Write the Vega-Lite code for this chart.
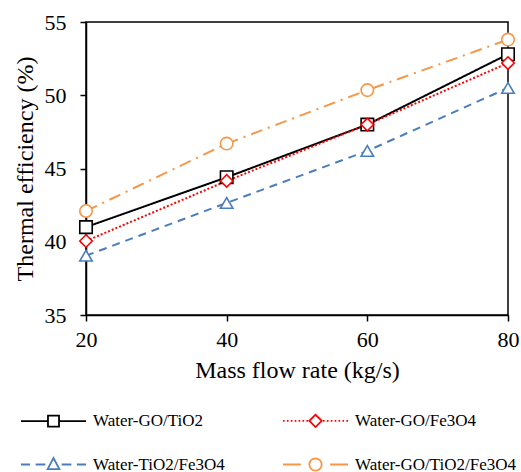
{
  "$schema": "https://vega.github.io/schema/vega-lite/v6.json",
  "width": 422,
  "height": 293,
  "autosize": {"type": "none"},
  "padding": {"left": 86, "top": 22, "right": 13, "bottom": 157},
  "background": "white",
  "config": {
    "font": "Liberation Serif",
    "view": {"stroke": "black", "strokeWidth": 1.5},
    "axis": {"grid": false, "labelFlush": false, "domainColor": "black", "domainWidth": 1.5, "tickColor": "black", "tickWidth": 1.5, "tickSize": 6, "labelFont": "Liberation Serif", "labelFontSize": 22, "labelColor": "black", "titleFont": "Liberation Serif", "titleFontSize": 24, "titleFontWeight": "normal", "titleColor": "black"},
    "legend": {"labelFont": "Liberation Serif"}
  },
  "data": {"values": [
    {"series": "Water-GO/TiO2", "x": 20, "y": 41.0},
    {"series": "Water-GO/TiO2", "x": 40, "y": 44.4},
    {"series": "Water-GO/TiO2", "x": 60, "y": 48.0},
    {"series": "Water-GO/TiO2", "x": 80, "y": 52.8},
    {"series": "Water-GO/Fe3O4", "x": 20, "y": 40.05},
    {"series": "Water-GO/Fe3O4", "x": 40, "y": 44.15},
    {"series": "Water-GO/Fe3O4", "x": 60, "y": 48.0},
    {"series": "Water-GO/Fe3O4", "x": 80, "y": 52.2},
    {"series": "Water-TiO2/Fe3O4", "x": 20, "y": 39.05},
    {"series": "Water-TiO2/Fe3O4", "x": 40, "y": 42.65},
    {"series": "Water-TiO2/Fe3O4", "x": 60, "y": 46.2},
    {"series": "Water-TiO2/Fe3O4", "x": 80, "y": 50.5},
    {"series": "Water-GO/TiO2/Fe3O4", "x": 20, "y": 42.1},
    {"series": "Water-GO/TiO2/Fe3O4", "x": 40, "y": 46.7},
    {"series": "Water-GO/TiO2/Fe3O4", "x": 60, "y": 50.35},
    {"series": "Water-GO/TiO2/Fe3O4", "x": 80, "y": 53.8}
  ]},
  "encoding": {
    "x": {"field": "x", "type": "quantitative", "scale": {"domain": [20, 80], "nice": false}, "axis": {"values": [20, 40, 60, 80], "title": "Mass flow rate (kg/s)", "labelFont": "Liberation Serif", "labelFlush": false, "labelPadding": 8, "titlePadding": 8}},
    "y": {"field": "y", "type": "quantitative", "scale": {"domain": [35, 55], "nice": false, "zero": false}, "axis": {"values": [35, 40, 45, 50, 55], "title": "Thermal efficiency (%)", "labelFont": "Liberation Serif", "labelFlush": false, "labelPadding": 14, "titlePadding": 7}}
  },
  "layer": [
    {
      "mark": {"type": "line", "strokeWidth": 2},
      "encoding": {
        "color": {"field": "series", "type": "nominal", "scale": {"domain": ["Water-GO/TiO2", "Water-GO/Fe3O4", "Water-TiO2/Fe3O4", "Water-GO/TiO2/Fe3O4"], "range": ["#000000", "#ff0000", "#4a7ebb", "#f79646"]}, "legend": null},
        "strokeDash": {"field": "series", "type": "nominal", "scale": {"domain": ["Water-GO/TiO2", "Water-GO/Fe3O4", "Water-TiO2/Fe3O4", "Water-GO/TiO2/Fe3O4"], "range": [[1, 0], [2, 2], [8, 6], [12, 6, 2, 6]]}, "legend": null}
      }
    },
    {
      "mark": {"type": "point", "filled": false, "fill": "white", "fillOpacity": 1, "strokeWidth": 1.6, "size": 155, "opacity": 1},
      "encoding": {
        "color": {"field": "series", "type": "nominal", "scale": {"domain": ["Water-GO/TiO2", "Water-GO/Fe3O4", "Water-TiO2/Fe3O4", "Water-GO/TiO2/Fe3O4"], "range": ["#000000", "#ff0000", "#4a7ebb", "#f79646"]}, "legend": null},
        "shape": {"field": "series", "type": "nominal", "scale": {"domain": ["Water-GO/TiO2", "Water-GO/Fe3O4", "Water-TiO2/Fe3O4", "Water-GO/TiO2/Fe3O4"], "range": ["square", "diamond", "triangle-up", "circle"]}, "legend": null}
      }
    },
    {
      "mark": {"type": "point", "filled": false, "opacity": 0, "strokeWidth": 1.8},
      "encoding": {
        "color": {"field": "series", "type": "nominal", "title": null, "scale": {"domain": ["Water-GO/TiO2", "Water-GO/Fe3O4", "Water-TiO2/Fe3O4", "Water-GO/TiO2/Fe3O4"], "range": ["#000000", "#ff0000", "#4a7ebb", "#f79646"]},
          "legend": {"orient": "none", "direction": "horizontal", "legendX": -66, "legendY": 365, "columns": 2, "title": null, "symbolSize": 4225, "symbolOpacity": 1, "symbolStrokeWidth": 1.8, "symbolFillColor": "white", "labelFontSize": 17, "labelFont": "Liberation Serif", "labelColor": "black", "labelOffset": 6, "labelLimit": 300, "columnPadding": 54, "rowPadding": -23}},
        "shape": {"field": "series", "type": "nominal", "title": null, "scale": {"domain": ["Water-GO/TiO2", "Water-GO/Fe3O4", "Water-TiO2/Fe3O4", "Water-GO/TiO2/Fe3O4"], "range": [
          "M-1,0H-0.17M0.17,0H1M-0.17,-0.17H0.17V0.17H-0.17Z",
          "M-1,0H-0.95M-0.88,0H-0.83M-0.76,0H-0.71M-0.64,0H-0.59M-0.52,0H-0.47M-0.4,0H-0.35M-0.28,0H-0.23M0.23,0H0.28M0.35,0H0.4M0.47,0H0.52M0.59,0H0.64M0.71,0H0.76M0.83,0H0.88M0.95,0H1M0,-0.19L0.19,0L0,0.19L-0.19,0Z",
          "M-1,0H-0.72M-0.55,0H-0.25M0.25,0H0.55M0.72,0H1M0,-0.2L0.18,0.14L-0.18,0.14Z",
          "M-1,0H-0.45M0.45,0H1M0.19,0A0.19,0.19 0 1,1 -0.19,0A0.19,0.19 0 1,1 0.19,0Z"
        ]}}
      }
    }
  ],
  "resolve": {"scale": {"color": "independent", "shape": "independent"}}
}
